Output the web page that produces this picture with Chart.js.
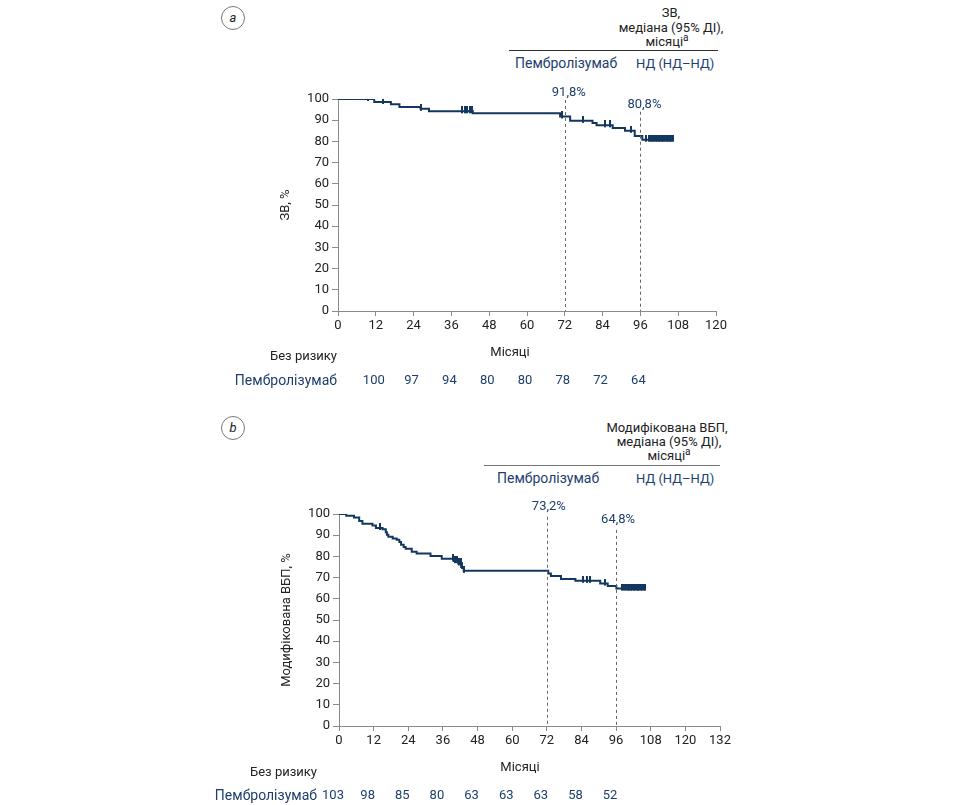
<!DOCTYPE html>
<html>
<head>
<meta charset="utf-8">
<script src="https://cdn.jsdelivr.net/npm/chart.js@4.4.1/dist/chart.umd.min.js"></script>
<style>
  html, body { margin: 0; padding: 0; background: #fff; }
  body { width: 967px; height: 805px; position: relative; overflow: hidden; font-family: Roboto, "Noto Sans", sans-serif; color: #222; }
  .t { position: absolute; white-space: nowrap; font-size: 13px; line-height: 1; }
  .p { font-size: 14px; }
  .c { transform: translate(-50%, -50%); }
  .l { transform: translate(0, -50%); }
  .blue { color: #1d3e6e; }
  .rule { position: absolute; height: 0; border-top: 1px solid #333; }
  .circ { position: absolute; width: 22px; height: 22px; border: 1px solid #777; border-radius: 50%; transform: translate(-50%, -50%);
          font-style: italic; font-size: 13px; text-align: center; line-height: 22px; }
  sup { font-size: 10px; vertical-align: 5px; line-height: 0; }
  canvas { position: absolute; left: 0; }
</style>
</head>
<body>
<!-- Panel a header -->
<div class="circ" style="left:233px; top:18px;">a</div>
<div class="t c" style="left:671px; top:12px;">ЗВ,</div>
<div class="t c" style="left:671px; top:27px;">медіана (95% ДІ),</div>
<div class="t c" style="left:667px; top:41px;">місяці<sup>a</sup></div>
<div class="rule" style="left:509px; width:209px; top:50px;"></div>
<div class="t l p blue" style="left:515px; top:63px;">Пембролізумаб</div>
<div class="t l blue" style="left:636px; top:63px;">НД (НД–НД)</div>

<!-- Panel b header -->
<div class="circ" style="left:233px; top:428px;">b</div>
<div class="t c" style="left:667px; top:427px;">Модифікована ВБП,</div>
<div class="t c" style="left:669px; top:441px;">медіана (95% ДІ),</div>
<div class="t c" style="left:669px; top:455px;">місяці<sup>a</sup></div>
<div class="rule" style="left:484px; width:236px; top:465px; border-color:#777;"></div>
<div class="t l p blue" style="left:497px; top:478px;">Пембролізумаб</div>
<div class="t l blue" style="left:636px; top:478px;">НД (НД–НД)</div>

<canvas id="chartA" width="967" height="400" style="top:0; width:967px; height:400px;"></canvas>
<canvas id="chartB" width="967" height="405" style="top:400px; width:967px; height:405px;"></canvas>

<script>
// ---------- DATA ----------
// Overall survival (panel a)
const osMonths   = [0, 11.5, 16.8, 19.5, 26.2, 28.9, 42.8, 70.5, 73.7, 80.8, 82.1, 87.2, 91.1, 94.2, 96.6, 106.6];
const osSurvival = [100, 98.6, 97.5, 96.2, 95.4, 94.2, 93.3, 91.8, 89.7, 88.7, 87.6, 86.3, 85.0, 82.6, 80.8, 80.8];
const osCensored = [9.5, 14.3, 26.2, 39.4, 40.3, 41.1, 41.8, 42.5, 71.0, 77.9, 84.9, 86.3, 93.1,
                    97.9, 98.7, 99.3, 99.8, 100.3, 100.8, 101.3, 101.8, 102.3, 102.8, 103.3,
                    103.8, 104.3, 104.8, 105.3, 105.8, 106.3];
const osRiskMonths = [12, 24, 36, 48, 60, 72, 84, 96];
const osAtRisk     = [100, 97, 94, 80, 80, 78, 72, 64];
const osMarkMonths = [72, 96];
const osMarkLabels = ['91,8%', '80,8%'];

// Modified PFS (panel b)
const pfsMonths   = [0, 2.5, 5.2, 7.0, 8.1, 11.6, 12.8, 15.1, 16.2, 16.6, 17.1, 18.6, 20.0, 20.9, 21.5, 22.4, 23.1, 25.2, 26.9, 31.7, 35.6, 39.7, 41.3, 42.3, 43.2, 72.5, 73.4, 76.9, 81.9, 90.5, 93.1, 96.1, 106.2];
const pfsSurvival = [100, 99.2, 98.4, 96.7, 95.4, 94.6, 93.4, 92.8, 91.4, 90.2, 89.3, 88.5, 87.9, 86.8, 85.5, 84.4, 83.6, 82.2, 81.4, 80.2, 78.9, 77.8, 76.7, 75.0, 73.2, 71.9, 70.7, 69.3, 68.5, 67.2, 66.0, 64.8, 64.8];
const pfsCensored = [14.2, 39.4, 40.3, 41.0, 41.6, 42.1, 42.6, 43.2, 84.4, 85.8, 87.1, 92.3,
                     98.1, 98.9, 99.6, 100.1, 100.6, 101.1, 101.6, 102.1, 102.6, 103.1,
                     103.6, 104.1, 104.6, 105.1, 105.6, 106.0];
const pfsRiskMonths = [0, 12, 24, 36, 48, 60, 72, 84, 96];
const pfsAtRisk     = [103, 98, 85, 80, 63, 63, 63, 58, 52];
const pfsMarkMonths = [72, 96];
const pfsMarkLabels = ['73,2%', '64,8%'];

// ---------- HELPERS ----------
const NAVY = '#13375f';
const BLUE = '#1d3e6e';
const GRAY = '#8a8a8a';
const FONT = 'Roboto, "Noto Sans", sans-serif';

function survAt(months, surv, t) {
  let v = surv[0];
  for (let i = 0; i < months.length; i++) { if (months[i] <= t) v = surv[i]; }
  return v;
}

// censor tick image: vertical mark, mostly above the line
const censorMark = (function () {
  const c = document.createElement('canvas');
  c.width = 2; c.height = 10;
  const g = c.getContext('2d');
  g.fillStyle = NAVY;
  g.fillRect(0, 0, 2, 7);
  return c;
})();

function makeChart(id, cfg) {
  const stepData = cfg.months.map((m, i) => ({ x: m, y: cfg.surv[i] }));
  const censorData = cfg.censored.map(m => ({ x: m, y: survAt(cfg.months, cfg.surv, m) }));

  const overlay = {
    id: 'overlay',
    afterDraw(chart) {
      const ctx = chart.ctx;
      const xs = chart.scales.x, ys = chart.scales.y;
      ctx.save();
      // dashed marker lines + labels
      ctx.strokeStyle = '#666';
      ctx.lineWidth = 1;
      ctx.setLineDash([3, 3]);
      cfg.marks.forEach((mk, i) => {
        const px = Math.round(xs.getPixelForValue(mk)) + 0.5;
        ctx.beginPath();
        ctx.moveTo(px, ys.getPixelForValue(cfg.markLineFrom[i]));
        ctx.lineTo(px, ys.getPixelForValue(0));
        ctx.stroke();
      });
      ctx.setLineDash([]);
      ctx.font = '13px ' + FONT;
      ctx.fillStyle = BLUE;
      ctx.textAlign = 'center';
      ctx.textBaseline = 'middle';
      cfg.marks.forEach((mk, i) => {
        ctx.fillText(cfg.markLabels[i], xs.getPixelForValue(mk) + cfg.markLabelDx, ys.getPixelForValue(cfg.markLabelAt[i]));
      });
      // x title
      ctx.fillStyle = '#222';
      ctx.fillText('Місяці', cfg.xTitleX, cfg.xTitleY);
      // at-risk table
      ctx.textAlign = 'right';
      ctx.fillText('Без ризику', cfg.riskLabelRight, cfg.riskHeadY);
      ctx.fillStyle = BLUE;
      ctx.font = '14px ' + FONT;
      ctx.fillText('Пембролізумаб', cfg.riskLabelRight, cfg.riskRowY);
      ctx.font = '13px ' + FONT;
      ctx.textAlign = 'center';
      cfg.riskMonths.forEach((m, i) => {
        ctx.fillText(String(cfg.atRisk[i]), xs.getPixelForValue(m) + cfg.riskDx, cfg.riskRowY);
      });
      ctx.restore();
    }
  };

  return new Chart(document.getElementById(id), {
    type: 'line',
    data: {
      datasets: [
        { data: stepData, stepped: 'before', borderColor: NAVY, borderWidth: 2, pointRadius: 0, fill: false, order: 2 },
        { type: 'scatter', data: censorData, showLine: false, pointStyle: censorMark, pointRadius: 5, borderColor: NAVY, backgroundColor: NAVY, order: 1 }
      ]
    },
    options: {
      responsive: false,
      animation: false,
      devicePixelRatio: 1,
      layout: { padding: cfg.padding },
      plugins: { legend: { display: false }, tooltip: { enabled: false } },
      scales: {
        x: {
          type: 'linear', min: 0, max: cfg.xMax,
          afterFit: s => { s.height = 25; },
          ticks: { stepSize: 12, color: '#222', font: { size: 13, family: FONT }, padding: 2, maxRotation: 0, autoSkip: false },
          grid: { drawOnChartArea: false, color: GRAY, tickLength: 5 },
          border: { color: GRAY, width: 1 }
        },
        y: {
          min: 0, max: 100,
          afterFit: s => { s.width = 60; },
          ticks: { stepSize: 10, color: '#222', font: { size: 13, family: FONT }, padding: 3 },
          grid: { drawOnChartArea: false, color: GRAY, tickLength: 6 },
          border: { color: GRAY, width: 1 },
          title: { display: true, text: cfg.yTitle, color: '#222', font: { size: 13, family: FONT }, padding: { top: 0, bottom: 2 } }
        }
      }
    },
    plugins: [overlay]
  });
}

makeChart('chartA', {
  months: osMonths, surv: osSurvival, censored: osCensored, xMax: 120,
  yTitle: 'ЗВ, %',
  padding: { left: 278, right: 251, top: 99, bottom: 64 },
  marks: osMarkMonths, markLabels: osMarkLabels, markLabelAt: [103, 97.5], markLineFrom: [99.5, 94], markLabelDx: 4,
  xTitleX: 510, xTitleY: 353,
  riskMonths: osRiskMonths, atRisk: osAtRisk, riskDx: -2,
  riskLabelRight: 337, riskHeadY: 357, riskRowY: 381
});

makeChart('chartB', {
  months: pfsMonths, surv: pfsSurvival, censored: pfsCensored, xMax: 132,
  yTitle: 'Модифікована ВБП, %',
  padding: { left: 279, right: 247, top: 114, bottom: 54 },
  marks: pfsMarkMonths, markLabels: pfsMarkLabels, markLabelAt: [103.2, 97.2], markLineFrom: [98.7, 92.5], markLabelDx: 2,
  xTitleX: 520, xTitleY: 368,
  riskMonths: pfsRiskMonths, atRisk: pfsAtRisk, riskDx: -6,
  riskLabelRight: 317, riskHeadY: 373, riskRowY: 396
});
</script>
</body>
</html>
